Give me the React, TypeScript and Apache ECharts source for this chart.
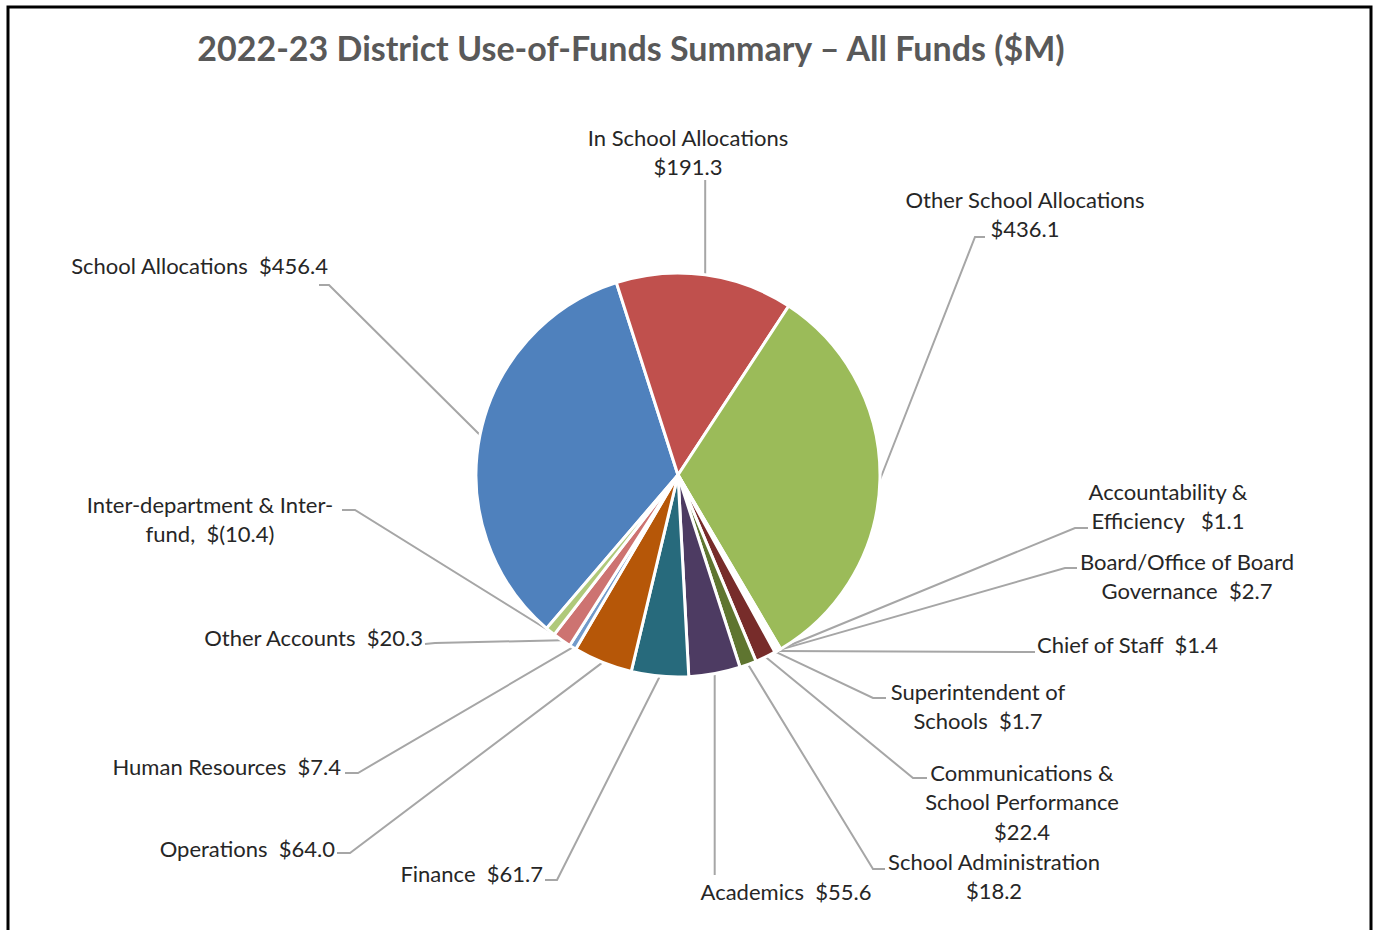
import React, { useEffect, useRef } from "react";
import * as echarts from "echarts";

// ---------------- data ----------------
const categories = [
  "School Allocations",
  "In School Allocations",
  "Other School Allocations",
  "Accountability & Efficiency",
  "Board/Office of Board Governance",
  "Chief of Staff",
  "Superintendent of Schools",
  "Communications & School Performance",
  "School Administration",
  "Academics",
  "Finance",
  "Operations",
  "Human Resources",
  "Other Accounts",
  "Inter-department & Inter-fund",
];
const values = [456.4, 191.3, 436.1, 1.1, 2.7, 1.4, 1.7, 22.4, 18.2, 55.6, 61.7, 64.0, 7.4, 20.3, -10.4];

// label text as shown (line breaks as in the original), {v} = formatted value
const labelTemplates = [
  "School Allocations  {v}",
  "In School Allocations\n{v}",
  "Other School Allocations\n{v}",
  "Accountability &\nEfficiency   {v}",
  "Board/Office of Board\nGovernance  {v}",
  "Chief of Staff  {v}",
  "Superintendent of\nSchools  {v}",
  "Communications &\nSchool Performance\n{v}",
  "School Administration\n{v}",
  "Academics  {v}",
  "Finance  {v}",
  "Operations  {v}",
  "Human Resources  {v}",
  "Other Accounts  {v}",
  "Inter-department & Inter-\nfund,  {v}",
];

const titleText = "2022-23 District Use-of-Funds Summary \u2013 All Funds ($M)";

// ---------------- styles / layout ----------------
const sliceColors = [
  "#4F81BD", "#C0504D", "#9BBB59", "#8064A2", "#4BACC6", "#F79646",
  "#2C4D75", "#772C2A", "#5F7530", "#4D3B62", "#276A7C", "#B65708",
  "#729ACA", "#CD7371", "#AFC97A",
];

const LH = 29.5;
type Spec = { x: number; y: number; align: string; line?: number[][]; vy?: number };
const labelSpecs: Spec[] = [
  { x: 328, y: 265, align: "right", line: [[329, 285], [319, 285]] },
  { x: 688, y: 137, align: "center", vy: 180 },
  { x: 1025, y: 199, align: "center", line: [[975, 237], [985, 237]] },
  { x: 1168, y: 491, align: "center", line: [[1075, 528], [1088, 528]] },
  { x: 1187, y: 561, align: "center", line: [[1065, 568], [1077, 568]] },
  { x: 1037, y: 644, align: "left", line: [[1025, 652], [1035, 652]] },
  { x: 978, y: 691, align: "center", line: [[873, 698], [886, 698]] },
  { x: 1022, y: 772, align: "center", line: [[913, 778], [927, 778]] },
  { x: 994, y: 861, align: "center", line: [[873, 869], [885, 869]] },
  { x: 786, y: 891, align: "center", vy: 875 },
  { x: 543, y: 873, align: "right", line: [[557, 880], [545, 880]] },
  { x: 335, y: 848, align: "right", line: [[350, 853], [337, 853]] },
  { x: 341, y: 766, align: "right", line: [[358, 773], [345, 773]] },
  { x: 423, y: 637, align: "right", line: [[435, 643], [425, 644]] },
  { x: 210, y: 504, align: "center", line: [[355, 510], [342, 510]] },
];

const fmt = (v: number) => (v < 0 ? `$(${Math.abs(v).toFixed(1)})` : `$${v.toFixed(1)}`);

export default function App() {
  const ref = useRef<HTMLDivElement>(null);
  useEffect(() => {
    if (!ref.current) return;
    const chart = echarts.init(ref.current, null, { renderer: "svg" });
    const data = categories.map((name, i) => ({
      name,
      value: Math.abs(values[i]),
      itemStyle: { color: sliceColors[i] },
    }));
    chart.setOption({
      animation: false,
      backgroundColor: "#ffffff",
      graphic: [
        {
          type: "rect",
          shape: { x: 8, y: 7, width: 1363, height: 1000 },
          style: { fill: "none", stroke: "#000000", lineWidth: 3 },
          silent: true,
        },
        {
          type: "text",
          x: 631,
          y: 47,
          style: {
            text: titleText,
            fontFamily: "Lato",
            fontWeight: "bold",
            fontSize: 34,
            fill: "#595959",
            textAlign: "center",
            textVerticalAlign: "middle",
          },
        },
      ],
      series: [
        {
          type: "pie",
          center: [678, 475],
          radius: 202,
          startAngle: 229.4,
          clockwise: true,
          avoidLabelOverlap: false,
          minShowLabelAngle: 0,
          itemStyle: { borderColor: "#ffffff", borderWidth: 3 },
          label: {
            show: true,
            position: "outside",
            fontFamily: "Lato",
            fontSize: 22,
            lineHeight: LH,
            color: "#262626",
            formatter: (p: any) => labelTemplates[p.dataIndex].replace("{v}", fmt(values[p.dataIndex])),
          },
          labelLine: {
            show: true,
            smooth: false,
            length: 20,
            length2: 10,
            lineStyle: { color: "#A6A6A6", width: 2 },
          },
          labelLayout: (p: any) => {
            const s = labelSpecs[p.dataIndex];
            const pts = p.labelLinePoints;
            const edge = pts && pts[0] ? pts[0] : [0, 0];
            const linePts = s.vy != null ? [edge, [edge[0], s.vy]] : [edge, ...(s.line as number[][])];
            return {
              x: s.x,
              y: s.y - LH / 2,
              align: s.align,
              verticalAlign: "top",
              labelLinePoints: linePts,
            };
          },
          emphasis: { disabled: true },
          data,
        },
      ],
    });
    return () => chart.dispose();
  }, []);
  return (
    <div
      ref={ref}
      style={{ position: "absolute", left: 0, top: 0, width: 1374, height: 930, background: "#fff" }}
    />
  );
}
